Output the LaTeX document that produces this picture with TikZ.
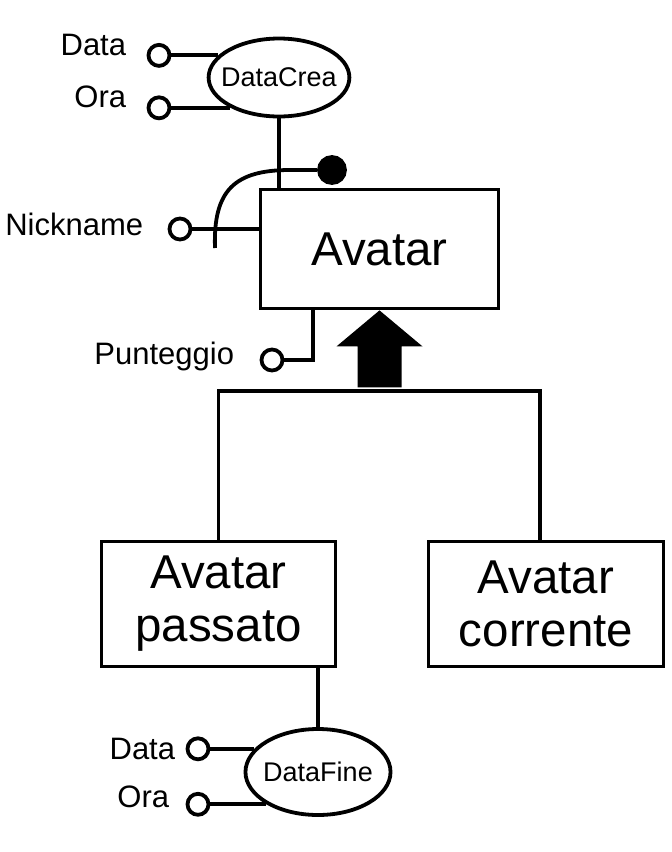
\documentclass[tikz,border=0pt]{standalone}
\usepackage{fontspec}
\setmainfont{Liberation Sans}
\usetikzlibrary{shapes.geometric}

\begin{document}
\begin{tikzpicture}[x=1pt,y=-1pt,line width=3.8pt,
	attr/.style={draw,circle,fill=white,minimum size=21pt,inner sep=0pt},
	ent/.style={draw,rectangle,inner sep=0pt,align=center,font=\fontsize{47.5}{53}\selectfont},
	comp/.style={draw,ellipse,inner ysep=0pt,font=\fontsize{27}{32}\selectfont},
	lab/.style={anchor=base east,inner sep=0pt,font=\fontsize{31}{36}\selectfont}]
	\useasboundingbox (0,0) rectangle (672,852);
	
	\node[ent,minimum width=238pt,minimum height=119pt] (v1) at (379.5,249) {Avatar};
	\node[ent,minimum width=234pt,minimum height=125pt] (v2) at (218.5,604) {Avatar\\passato};
	\node[ent,minimum width=235pt,minimum height=125pt] (v3) at (546,604) {Avatar\\corrente};
	
	\node[comp,inner xsep=-8pt,minimum height=78pt] (v4) at (279,77.5) {DataCrea};
	\node[comp,inner xsep=-3.5pt,minimum height=86pt] (v5) at (318,772) {DataFine};
	
	\node[attr] (v6) at (159,0 |- v4.160) {};
	\node[attr] (v7) at (159,0 |- v4.212) {};
	\node[attr] (v8) at (180,229) {};
	\node[attr] (v9) at (272,360) {};
	\node[attr] (v10) at (198,0 |- v5.160) {};
	\node[attr] (v11) at (198,0 |- v5.212) {};
	\node[draw,circle,fill=black,minimum size=26pt,inner sep=0pt] (v12) at (332,170) {};
	\coordinate (v13) at (215,248);
	
	\node[lab] at (128,55) {Data};
	\node[lab] at (128,107) {Ora};
	\node[lab] at (145,235) {Nickname};
	\node[lab] at (236,364) {Punteggio};
	\node[lab] at (177,759) {Data};
	\node[lab] at (171,807) {Ora};
	
	\draw (v6) -- (v4.160);
	\draw (v7) -- (v4.212);
	\draw (v4) -- (v4 |- v1.north);
	\draw (v8) -- (v8 -| v1.west);
	\draw ([xshift=-66.5pt]v1.south) |- (v9);
	\draw (v13) .. controls (213,190) and (235,170) .. (290,170) -- (v12);
	
	\fill (v1.south) -- ++(43,36) -- ++(-21,0) -- ++(0,41) -- ++(-44,0) -- ++(0,-41) -- ++(-21,0) -- cycle;
	\draw (v2.north) -- ++(0,-149) -| ([xshift=-6pt]v3.north);
	
	\draw (v5) -- (v5 |- v2.south);
	\draw (v10) -- (v5.160);
	\draw (v11) -- (v5.212);
\end{tikzpicture}
\end{document}
